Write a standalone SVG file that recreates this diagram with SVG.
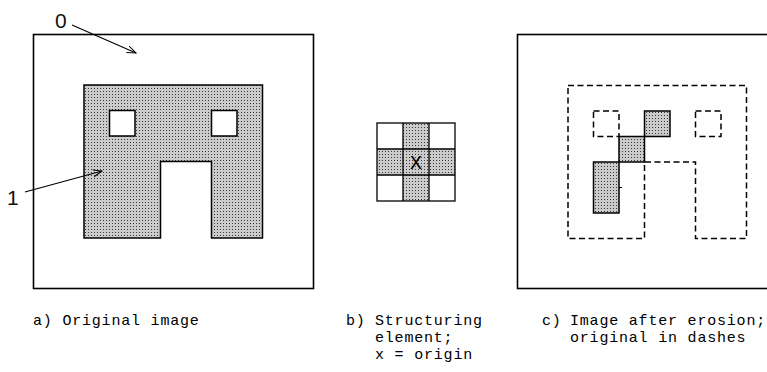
<svg xmlns="http://www.w3.org/2000/svg" width="767" height="372" viewBox="0 0 767 372">
<defs>
<pattern id="dots" width="3" height="3" patternUnits="userSpaceOnUse">
<rect width="3" height="3" fill="#cbcbcb"/>
<rect x="1" y="1" width="1" height="1" fill="#3a3a3a"/>
</pattern>
<marker id="arr" markerWidth="10" markerHeight="8" refX="9" refY="4" orient="auto" markerUnits="userSpaceOnUse">
<path d="M0,0.5 L9,4 L0,7.5" fill="none" stroke="#000" stroke-width="1"/>
</marker>
<style>
.frame{fill:#fff;stroke:#000;stroke-width:1.6}
.shade{fill:url(#dots);stroke:#000;stroke-width:1.5;fill-rule:evenodd}
.dash{fill:none;stroke:#000;stroke-width:1.5;stroke-dasharray:6 3.5}
.cell{fill:none;stroke:#000;stroke-width:1.3}
.lbl{font-family:"Liberation Mono","DejaVu Sans Mono",monospace;font-size:15px;letter-spacing:0.8px;fill:#000}
.num{font-family:"Liberation Sans",Arial,sans-serif;font-size:21px;fill:#111}
.conn{fill:none;stroke:#000;stroke-width:1.1}
</style>
</defs>
<rect width="767" height="372" fill="#fff"/>

<g id="panel-a">
<rect class="frame" x="33.5" y="34.5" width="280" height="254"/>
<path class="shade" d="M84,85 H262.5 V238 H211.5 V161.5 H160.5 V238 H84 Z M109.5,110.5 H135 V136 H109.5 Z M211.5,110.5 H237 V136 H211.5 Z"/>
<text class="num" x="55" y="28">0</text>
<text class="num" x="7" y="205">1</text>
</g>

<g id="panel-b">
<rect x="403" y="123" width="26" height="78" fill="url(#dots)"/>
<rect x="377" y="149" width="78" height="26" fill="url(#dots)"/>
<rect class="cell" x="377" y="123" width="78" height="78"/>
<path class="cell" d="M403,123 V201 M429,123 V201 M377,149 H455 M377,175 H455"/>
<text class="lbl" x="416" y="169" text-anchor="middle" style="font-size:20px;letter-spacing:0">X</text>
</g>

<g id="panel-c">
<rect class="frame" x="517.5" y="34.5" width="270" height="254"/>
<path class="dash" d="M568,85.5 H746.5 V238.5 H695.5 V162 H644.5 V238.5 H568 Z"/>
<path class="dash" d="M593.5,111 H619 V136.5 H593.5 Z"/>
<path class="dash" d="M695.5,111 H721 V136.5 H695.5 Z"/>
<rect class="shade" x="644.5" y="111" width="25.5" height="25.5"/>
<rect class="shade" x="619" y="136.5" width="25.5" height="25.5"/>
<rect class="shade" x="593.5" y="162" width="25.5" height="51"/>
<path d="M619,187.5 H622" stroke="#000" stroke-width="1"/>
</g>

<g id="connectors">
<path class="conn" d="M72,25 L136,53" marker-end="url(#arr)"/>
<path class="conn" d="M25,192 L102,171" marker-end="url(#arr)"/>
</g>

<g id="captions">
<text class="lbl" x="33" y="325">a) Original image</text>
<text class="lbl" x="346" y="325">b)</text>
<text class="lbl" x="375" y="325">Structuring</text>
<text class="lbl" x="375" y="342">element;</text>
<text class="lbl" x="375" y="359">x = origin</text>
<text class="lbl" x="542" y="325">c)</text>
<text class="lbl" x="570" y="325">Image after erosion;</text>
<text class="lbl" x="570" y="342">original in dashes</text>
</g>
</svg>
